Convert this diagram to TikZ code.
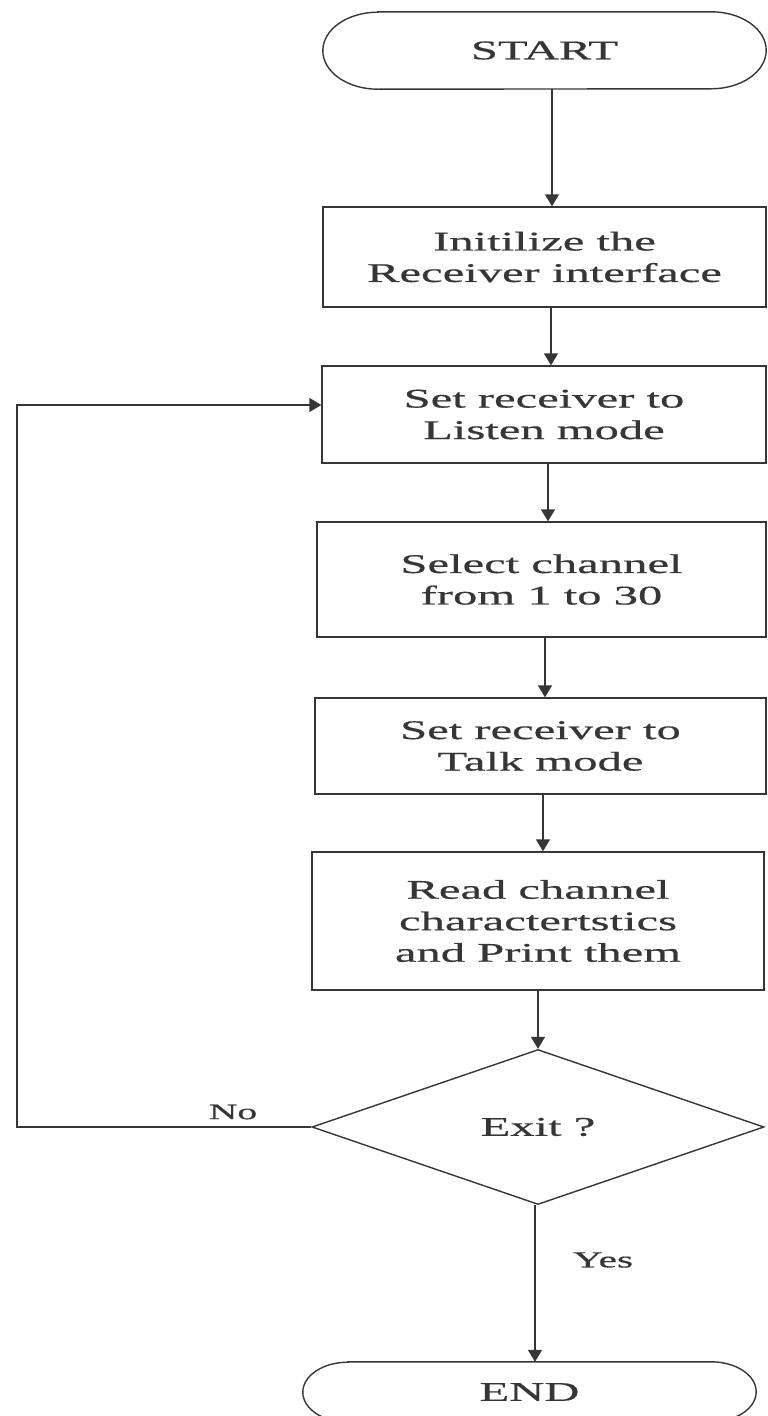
\documentclass[tikz,border=0pt]{standalone}
\usepackage{fontspec}
\setmainfont[FakeStretch=1.8,FakeBold=0.6]{Liberation Serif}
\usetikzlibrary{arrows.meta,shapes.geometric}
\definecolor{ink}{HTML}{363636}
\begin{document}
\begin{tikzpicture}[x=1pt,y=-1pt,
  box/.style={draw=ink, line width=1.4pt, rectangle, inner sep=0pt, align=center, text=ink,
    font=\fontsize{27}{31.5}\selectfont},
  term/.style={draw=none, rectangle, inner sep=0pt, text=ink, font=\fontsize{27}{31.5}\selectfont},
  dec/.style={draw=ink, line width=1.4pt, diamond, inner sep=0pt, text=ink, font=\fontsize{27}{31.5}\selectfont},
  arr/.style={draw=ink, line width=1.4pt, -{Triangle[length=12pt,width=14pt]}},
  lbl/.style={text=ink, inner sep=0pt}]
\useasboundingbox (0,0) rectangle (768,1416);
\fill[white] (0,0) rectangle (768,1416);

% START terminal
\node[term, minimum width=443pt, minimum height=77pt] (start) at (544.5,50.5) {START};
\draw[ink, line width=1.4pt]
  ([xshift=55pt]start.north west) -- ([xshift=-55pt]start.north east)
  arc[start angle=90, end angle=-90, x radius=55pt, y radius=38.5pt]
  -- ([xshift=55pt]start.south west)
  arc[start angle=270, end angle=90, x radius=55pt, y radius=38.5pt] -- cycle;

\node[box, minimum width=443pt, minimum height=100pt] (b1) at (544.5,257) {Initilize the\\Receiver interface};
\node[box, minimum width=444pt, minimum height=97pt] (b2) at (544,414.5) {Set receiver to\\Listen mode};
\node[box, minimum width=449pt, minimum height=115pt] (b3) at (541.5,579.5) {Select channel\\from 1 to 30};
\node[box, minimum width=451pt, minimum height=96pt] (b4) at (540.5,746) {Set receiver to\\Talk mode};
\node[box, minimum width=452pt, minimum height=138pt] (b5) at (538,921) {Read channel\\charactertstics\\and Print them};
\node[dec, minimum width=452pt, minimum height=155pt] (d) at (538,1127) {Exit ?};

% END terminal
\node[term, minimum width=453pt, minimum height=60pt] (end) at (529.5,1392) {END};
\draw[ink, line width=1.4pt]
  ([xshift=45pt]end.north west) -- ([xshift=-45pt]end.north east)
  arc[start angle=90, end angle=-90, x radius=45pt, y radius=30pt]
  -- ([xshift=45pt]end.south west)
  arc[start angle=270, end angle=90, x radius=45pt, y radius=30pt] -- cycle;

% main flow
\draw[arr] ([xshift=7.5pt]start.south) -- ([xshift=7.5pt]start.south |- b1.north);
\draw[arr] ([xshift=6.5pt]b1.south) -- ([xshift=6.5pt]b1.south |- b2.north);
\draw[arr] ([xshift=4pt]b2.south) -- ([xshift=4pt]b2.south |- b3.north);
\draw[arr] ([xshift=3.5pt]b3.south) -- ([xshift=3.5pt]b3.south |- b4.north);
\draw[arr] ([xshift=2.5pt]b4.south) -- ([xshift=2.5pt]b4.south |- b5.north);
\draw[arr] (b5.south) -- (d.north);
\draw[arr] ([xshift=-3pt]d.south) -- ([xshift=-3pt]d.south |- end.north);

% No loop
\coordinate (lp) at (17,1127);
\draw[arr] (d.west) -- (lp) |- ([yshift=9.5pt]b2.west);

\node[lbl, font=\fontsize{22}{26}\selectfont] (no) at (233,1112) {No};
\node[lbl, font=\fontsize{23}{27}\selectfont] (yes) at (603,1260) {Yes};
\end{tikzpicture}
\end{document}
